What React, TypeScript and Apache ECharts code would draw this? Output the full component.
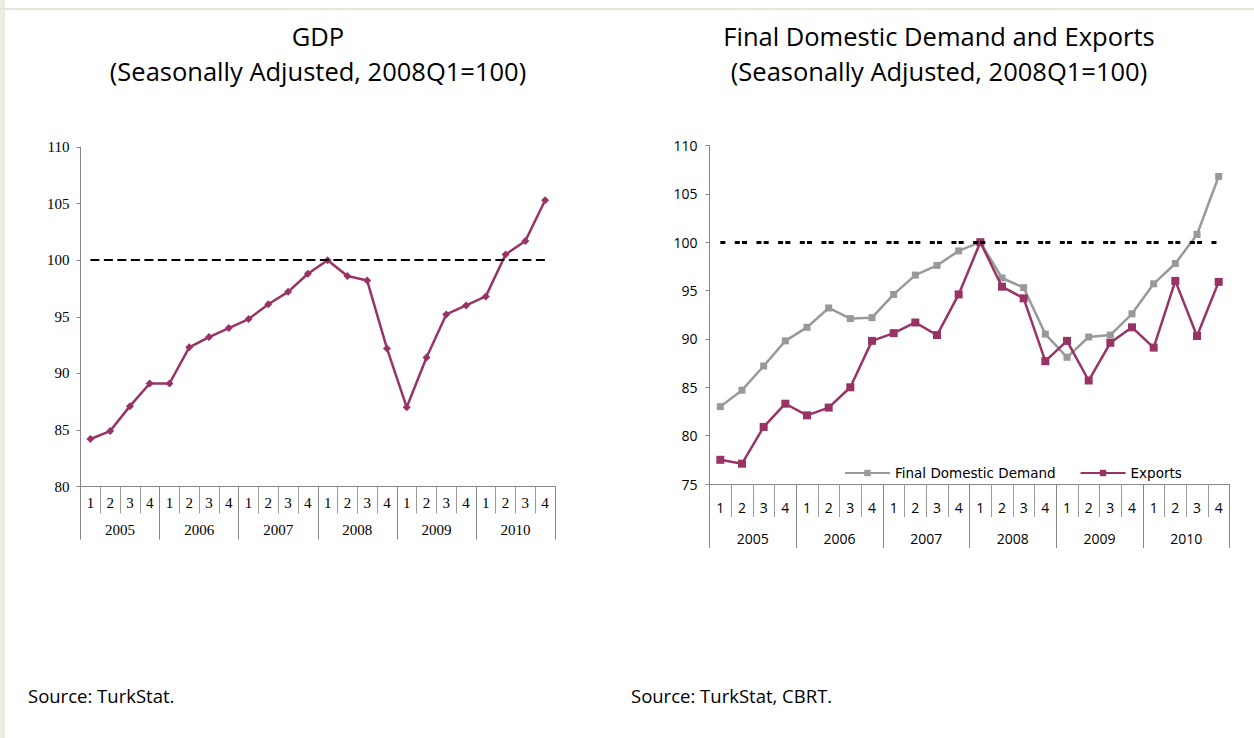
import React, { useEffect, useRef } from "react";
import * as echarts from "echarts";

const years = ["2005", "2006", "2007", "2008", "2009", "2010"];
const quarterLabels = ["1", "2", "3", "4"];
const categories = years.flatMap((y) => quarterLabels.map((q) => `${y}Q${q}`));

const gdp = [
  84.2, 84.9, 87.1, 89.1,
  89.1, 92.3, 93.2, 94.0,
  94.8, 96.1, 97.2, 98.8,
  100.0, 98.6, 98.2, 92.2,
  87.0, 91.4, 95.2, 96.0,
  96.8, 100.5, 101.7, 105.3,
];

const finalDomesticDemand = [
  83.0, 84.7, 87.2, 89.8,
  91.2, 93.2, 92.1, 92.2,
  94.6, 96.6, 97.6, 99.1,
  100.0, 96.3, 95.3, 90.5,
  88.1, 90.2, 90.4, 92.6,
  95.7, 97.8, 100.8, 106.8,
];

const exportsIdx = [
  77.5, 77.1, 80.9, 83.3,
  82.1, 82.9, 85.0, 89.8,
  90.6, 91.7, 90.4, 94.6,
  100.0, 95.4, 94.2, 87.7,
  89.8, 85.7, 89.6, 91.2,
  89.1, 96.0, 90.3, 95.9,
];

const baseValue = 100;
const leftTicks = { min: 80, max: 110, interval: 5 };
const rightTicks = { min: 75, max: 110, interval: 5 };

const PURPLE = "#993366";
const GRAY = "#999999";

export default function App() {
  const ref = useRef<HTMLDivElement>(null);

  useEffect(() => {
    if (!ref.current) return;
    const chart = echarts.init(ref.current, undefined, { renderer: "svg" });

    const W = 1254;
    const H = 738;
    const g0 = { left: 80.5, right: W - 555, top: 147, bottom: H - 486.5 };
    const g1 = { left: 709.5, right: W - 1229.5, top: 145.5, bottom: H - 484 };
    const catW1 = (1229.5 - 709.5) / categories.length;
    const serif = "Liberation Serif";
    const sans = "Open Sans";

    const baseLine = (width: number, dash: number[]) => ({
      silent: true,
      symbol: ["none", "none"],
      label: { show: false },
      emphasis: { disabled: true },
      lineStyle: { color: "#000", width, type: dash },
      data: [
        [
          { coord: [0, baseValue] },
          { coord: [categories.length - 1, baseValue] },
        ],
      ],
    });

    const quarterAxis = (gridIndex: number, tickLen: number, margin: number, font: string, size: number) => ({
      type: "category",
      gridIndex,
      data: categories,
      position: "bottom",
      boundaryGap: true,
      axisLine: { show: true, lineStyle: { color: "#868686", width: 1 } },
      axisTick: { show: true, interval: 0, length: tickLen, lineStyle: { color: "#9a9a9a" } },
      axisLabel: {
        interval: 0,
        margin,
        formatter: (v: string) => v.slice(-1),
        fontFamily: font,
        fontSize: size,
        color: "#000",
      },
      splitLine: { show: false },
    });

    const yearAxis = (gridIndex: number, tickLen: number, margin: number, font: string, size: number) => ({
      type: "category",
      gridIndex,
      data: years,
      position: "bottom",
      boundaryGap: true,
      axisLine: { show: false },
      axisTick: { show: true, interval: 0, length: tickLen, lineStyle: { color: "#868686" } },
      axisLabel: { interval: 0, margin, fontFamily: font, fontSize: size, color: "#000" },
      splitLine: { show: false },
    });

    const valueAxis = (gridIndex: number, t: { min: number; max: number; interval: number }, font: string, size: number, margin: number) => ({
      type: "value",
      gridIndex,
      min: t.min,
      max: t.max,
      interval: t.interval,
      axisLine: { show: true, lineStyle: { color: "#868686", width: 1 } },
      axisTick: { show: true, inside: false, length: 4, lineStyle: { color: "#868686" } },
      axisLabel: { margin, fontFamily: font, fontSize: size, color: "#000" },
      splitLine: { show: false },
    });

    const titleStyle = { fontFamily: sans, fontSize: 25.5, fontWeight: "normal", color: "#000", lineHeight: 35 };

    chart.setOption({
      animation: false,
      backgroundColor: "#ffffff",
      title: [
        {
          text: "GDP\n(Seasonally Adjusted, 2008Q1=100)",
          left: 313,
          top: 13,
          textAlign: "center",
          textStyle: titleStyle,
        },
        {
          text: "Final Domestic Demand and Exports\n(Seasonally Adjusted, 2008Q1=100)",
          left: 934,
          top: 13,
          textAlign: "center",
          textStyle: titleStyle,
        },
      ],
      grid: [
        { ...g0, containLabel: false, outerBoundsMode: "none" },
        { ...g1, containLabel: false, outerBoundsMode: "none" },
      ],
      xAxis: [
        quarterAxis(0, 27, 9, serif, 15),
        yearAxis(0, 53, 36, serif, 15),
        quarterAxis(1, 33, 16, sans, 14),
        yearAxis(1, 64, 47, sans, 14),
      ],
      yAxis: [
        valueAxis(0, leftTicks, serif, 15, 11),
        valueAxis(1, rightTicks, sans, 14, 12),
      ],
      legend: {
        data: ["Final Domestic Demand", "Exports"],
        left: 844,
        top: 466,
        itemWidth: 45,
        itemHeight: 8,
        itemGap: 24,
        padding: 0,
        selectedMode: false,
        textStyle: { fontFamily: "DejaVu Sans", fontSize: 13.5, color: "#000" },
      },
      series: [
        {
          name: "GDP",
          type: "line",
          xAxisIndex: 0,
          yAxisIndex: 0,
          data: gdp,
          symbol: "diamond",
          symbolSize: 8,
          itemStyle: { color: PURPLE },
          lineStyle: { color: PURPLE, width: 2.5 },
          markLine: baseLine(2, [9, 4.5]),
          z: 3,
        },
        {
          name: "Final Domestic Demand",
          type: "line",
          xAxisIndex: 2,
          yAxisIndex: 1,
          data: finalDomesticDemand,
          symbol: "rect",
          symbolSize: 7,
          itemStyle: { color: GRAY },
          lineStyle: { color: GRAY, width: 2.5 },
          markLine: baseLine(3, [5, catW1 - 12.2, 5, 2.2]),
          z: 3,
        },
        {
          name: "Exports",
          type: "line",
          xAxisIndex: 2,
          yAxisIndex: 1,
          data: exportsIdx,
          symbol: "rect",
          symbolSize: 8,
          itemStyle: { color: PURPLE },
          lineStyle: { color: PURPLE, width: 2.5 },
          z: 4,
        },
      ],
      graphic: [
        { type: "rect", left: 0, top: 0, shape: { width: 5, height: H }, style: { fill: "#eeebe1" }, silent: true },
        { type: "rect", left: 0, top: 8, shape: { width: W, height: 2 }, style: { fill: "#e9e5d6" }, silent: true },
        {
          type: "text",
          x: 28,
          y: 695,
          style: { text: "Source: TurkStat.", fontFamily: sans, fontSize: 18.5, fill: "#000", textVerticalAlign: "middle" },
        },
        {
          type: "text",
          x: 631,
          y: 695,
          style: { text: "Source: TurkStat, CBRT.", fontFamily: sans, fontSize: 18.5, fill: "#000", textVerticalAlign: "middle" },
        },
      ],
    });

    return () => chart.dispose();
  }, []);

  return (
    <div
      ref={ref}
      style={{ position: "fixed", left: 0, top: 0, width: 1254, height: 738, background: "#fff" }}
    />
  );
}
